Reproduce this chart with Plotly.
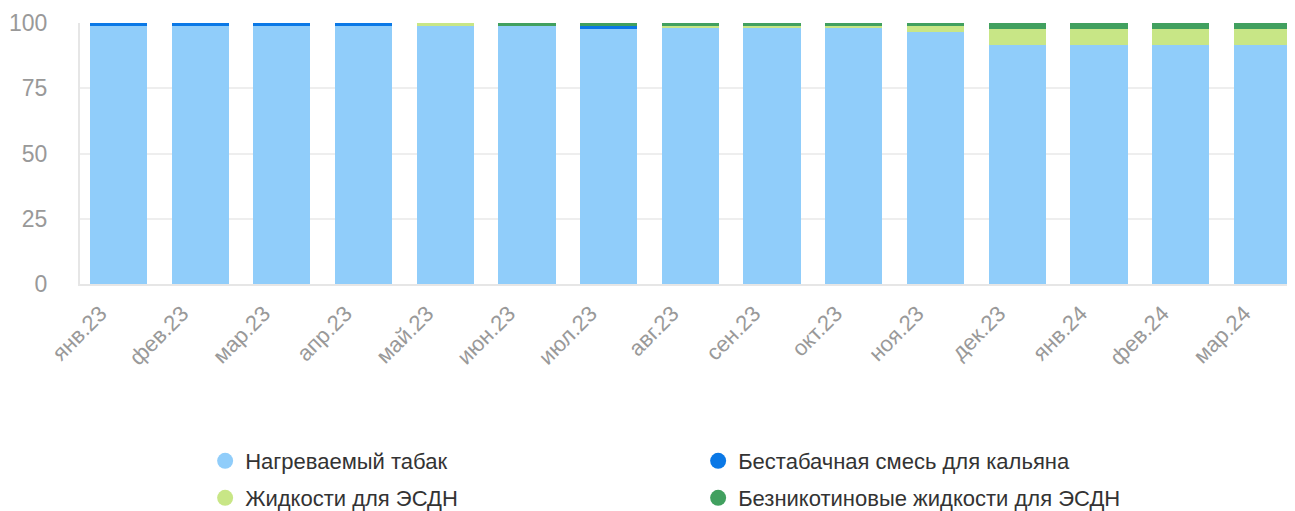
import plotly.graph_objects as go

months = [
    "янв.23", "фев.23", "мар.23", "апр.23", "май.23", "июн.23", "июл.23",
    "авг.23", "сен.23", "окт.23", "ноя.23", "дек.23", "янв.24", "фев.24", "мар.24",
]
heated_tobacco = [99, 99, 99, 99, 99, 99, 97.8, 98, 98, 98, 96.6, 91.7, 91.7, 91.7, 91.7]
hookah_mix = [1, 1, 1, 1, 0, 0, 1.1, 0, 0, 0, 0, 0, 0, 0, 0]
liquids = [0, 0, 0, 0, 1, 0, 0, 1, 1, 1, 2.3, 6, 6, 6, 6]
nicotine_free = [0, 0, 0, 0, 0, 1, 1.1, 1, 1, 1, 1.1, 2.3, 2.3, 2.3, 2.3]

series = [
    ("Нагреваемый табак", heated_tobacco, "#90cdfa", "legend"),
    ("Бестабачная смесь для кальяна", hookah_mix, "#0a78e6", "legend"),
    ("Жидкости для ЭСДН", liquids, "#c8e686", "legend2"),
    ("Безникотиновые жидкости для ЭСДН", nicotine_free, "#41a05f", "legend2"),
]

fig = go.Figure()
for name, vals, color, _ in series:
    fig.add_trace(go.Bar(x=months, y=vals, name=name, marker=dict(color=color, line=dict(width=0)),
                         showlegend=False))
# round legend markers, two rows
for name, vals, color, leg in series:
    fig.add_trace(go.Scatter(x=[None], y=[None], mode="markers", name=name, legend=leg,
                             marker=dict(color=color, size=20, symbol="circle")))

legend_style = dict(
    orientation="h",
    x=0.103,
    xanchor="left",
    yanchor="middle",
    entrywidth=448,
    itemsizing="trace",
    traceorder="normal",
    font=dict(size=22, color="#333333"),
)

# page body has an 8px margin, so the figure is a bit smaller than the window
fig.update_layout(
    barmode="stack",
    bargap=0.3,
    width=1287,
    height=503,
    margin=dict(l=72, r=0, t=15, b=227, autoexpand=False),
    plot_bgcolor="white",
    paper_bgcolor="white",
    font=dict(family="Liberation Sans, Arial, sans-serif", color="#999999"),
    xaxis=dict(
        range=[-0.47, 14.4],
        tickangle=-45,
        tickfont=dict(size=22, color="#999999"),
        ticklabelshift=-18,
        ticklabelstandoff=6,
        showline=True,
        linecolor="#e6e6e6",
        linewidth=2,
        ticks="",
        showgrid=False,
        automargin=False,
    ),
    yaxis=dict(
        range=[0, 100],
        tickvals=[0, 25, 50, 75, 100],
        tickfont=dict(size=23, color="#999999"),
        gridcolor="#eeeeee",
        gridwidth=2,
        showline=True,
        linecolor="#e6e6e6",
        linewidth=2,
        ticks="",
        ticklabelstandoff=26,
        zeroline=False,
        automargin=False,
    ),
    legend=dict(legend_style, y=(276 - 453) / 261),
    legend2=dict(legend_style, y=(276 - 490) / 261),
)

fig.write_html("out.html")
